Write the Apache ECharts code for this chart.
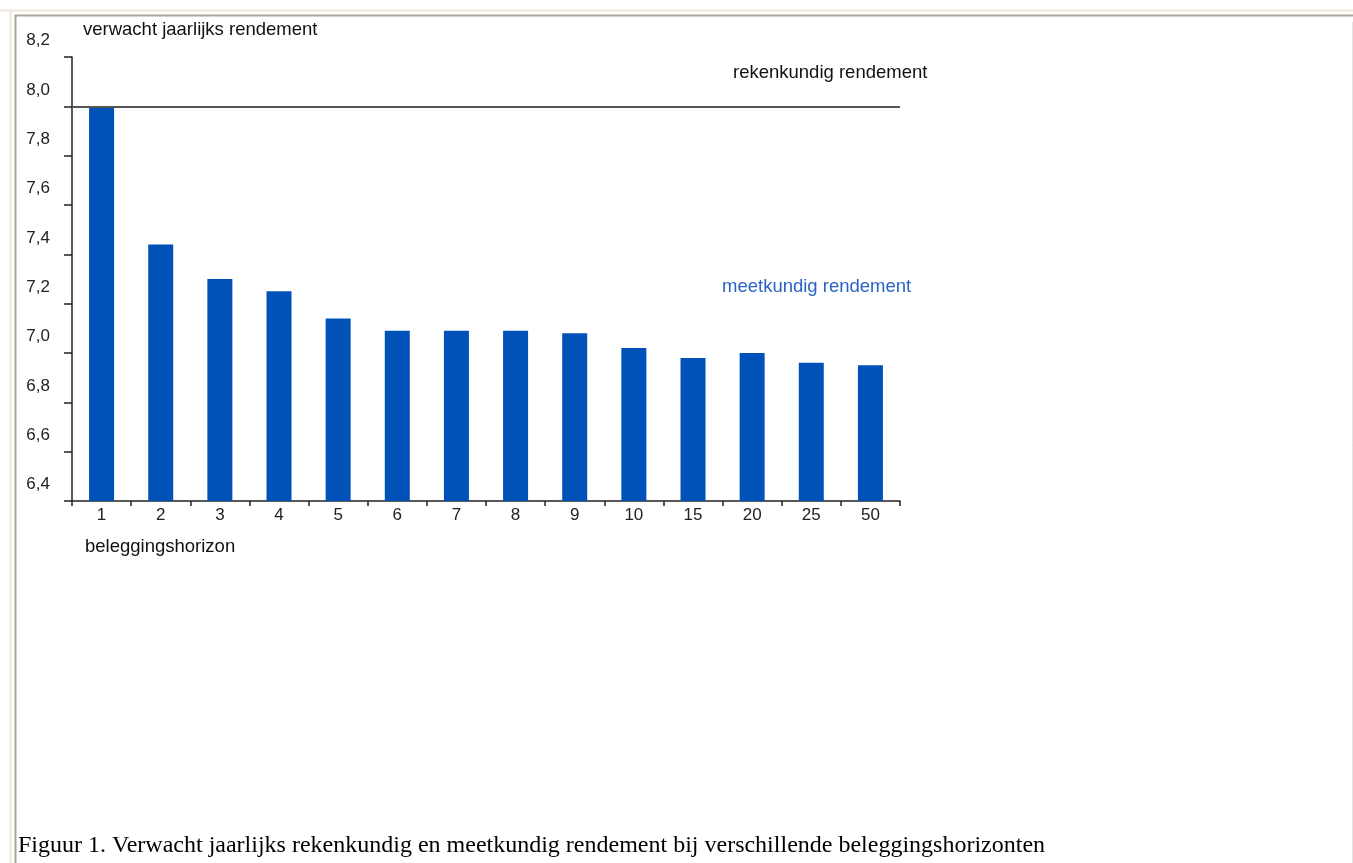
<!DOCTYPE html>
<html><head><meta charset="utf-8">
<script src="https://cdn.jsdelivr.net/npm/echarts@6/dist/echarts.min.js"></script>
<style>html,body{margin:0;padding:0;background:#fff}#c{width:1353px;height:863px}</style>
</head><body><div id="c"></div>
<script>
// categories: beleggingshorizon (jaren)
const categories = ['1','2','3','4','5','6','7','8','9','10','15','20','25','50'];
// meetkundig rendement per horizon
const meetkundig = [8.00,7.44,7.30,7.25,7.14,7.09,7.09,7.09,7.08,7.02,6.98,7.00,6.96,6.95];
// rekenkundig rendement (horizontal line)
const rekenkundig = 8.0;
const yMin = 6.4, yMax = 8.2, yStep = 0.2;
const yAxisTitle = 'verwacht jaarlijks rendement';
const xAxisTitle = 'beleggingshorizon';
const lineLabel = 'rekenkundig rendement';
const barLabel = 'meetkundig rendement';
const caption = 'Figuur 1. Verwacht jaarlijks rekenkundig en meetkundig rendement bij verschillende beleggingshorizonten';

const FONT = '"Liberation Sans", Arial, sans-serif';
const chart = echarts.init(document.getElementById('c'), null, {renderer:'canvas'});
chart.setOption({
  animation: false,
  backgroundColor: '#fff',
  grid: {left: 72, right: 453, top: 57, bottom: 362, containLabel: false},
  xAxis: {
    type: 'category', data: categories, boundaryGap: true,
    axisLine: {lineStyle: {color: '#222', width: 1.5}},
    axisTick: {show: true, length: 5, inside: false, lineStyle: {color: '#222', width: 1.5}},
    axisLabel: {color: '#222', fontSize: 17, fontFamily: FONT, margin: 6}
  },
  yAxis: {
    type: 'value', min: yMin, max: yMax, interval: yStep,
    name: yAxisTitle, nameLocation: 'end', nameGap: 27,
    nameTextStyle: {color: '#111', fontSize: 18.5, fontFamily: FONT, align: 'left', verticalAlign: 'middle', padding: [0,0,0,11]},
    splitLine: {show: false},
    axisLine: {show: true, lineStyle: {color: '#222', width: 1.5}},
    axisTick: {show: true, length: 8, inside: false, lineStyle: {color: '#222', width: 1.5}},
    axisLabel: {color: '#222', fontSize: 17, fontFamily: FONT, margin: 22,
      verticalAlign: 'bottom', padding: [0,0,8,0],
      formatter: v => v.toFixed(1).replace('.', ',')}
  },
  series: [{
    type: 'bar', data: meetkundig, barWidth: 25,
    itemStyle: {color: '#0052B9'},
    markLine: {
      silent: true, symbol: 'none', animation: false,
      label: {show: false},
      lineStyle: {color: '#555', width: 2, type: 'solid'},
      data: [{yAxis: rekenkundig}]
    }
  }],
  graphic: [
    {type:'line', shape:{x1:0,y1:10.5,x2:1353,y2:10.5}, style:{stroke:'#ece8da', lineWidth:2}},
    {type:'line', shape:{x1:15,y1:15.5,x2:1353,y2:15.5}, style:{stroke:'#a9a596', lineWidth:2}},
    {type:'line', shape:{x1:10.5,y1:10,x2:10.5,y2:863}, style:{stroke:'#ece8da', lineWidth:2}},
    {type:'line', shape:{x1:15.5,y1:15,x2:15.5,y2:863}, style:{stroke:'#a9a596', lineWidth:2}},
    {type:'line', shape:{x1:1352.5,y1:22,x2:1352.5,y2:863}, style:{stroke:'#e4e4e4', lineWidth:1}},
    {type:'text', x:733, y:73, style:{text: lineLabel, fontSize:18.5, fontFamily:FONT, fill:'#111', align:'left', verticalAlign:'middle'}},
    {type:'text', x:722, y:287, style:{text: barLabel, fontSize:18.5, fontFamily:FONT, fill:'#2a63c7', align:'left', verticalAlign:'middle'}},
    {type:'text', x:85, y:547, style:{text: xAxisTitle, fontSize:18.5, fontFamily:FONT, fill:'#111', align:'left', verticalAlign:'middle'}},
    {type:'text', x:18, y:846, style:{text: caption, fontSize:24, fontFamily:'"Liberation Serif", "Times New Roman", serif', fill:'#000', align:'left', verticalAlign:'middle'}}
  ]
});
</script></body></html>
